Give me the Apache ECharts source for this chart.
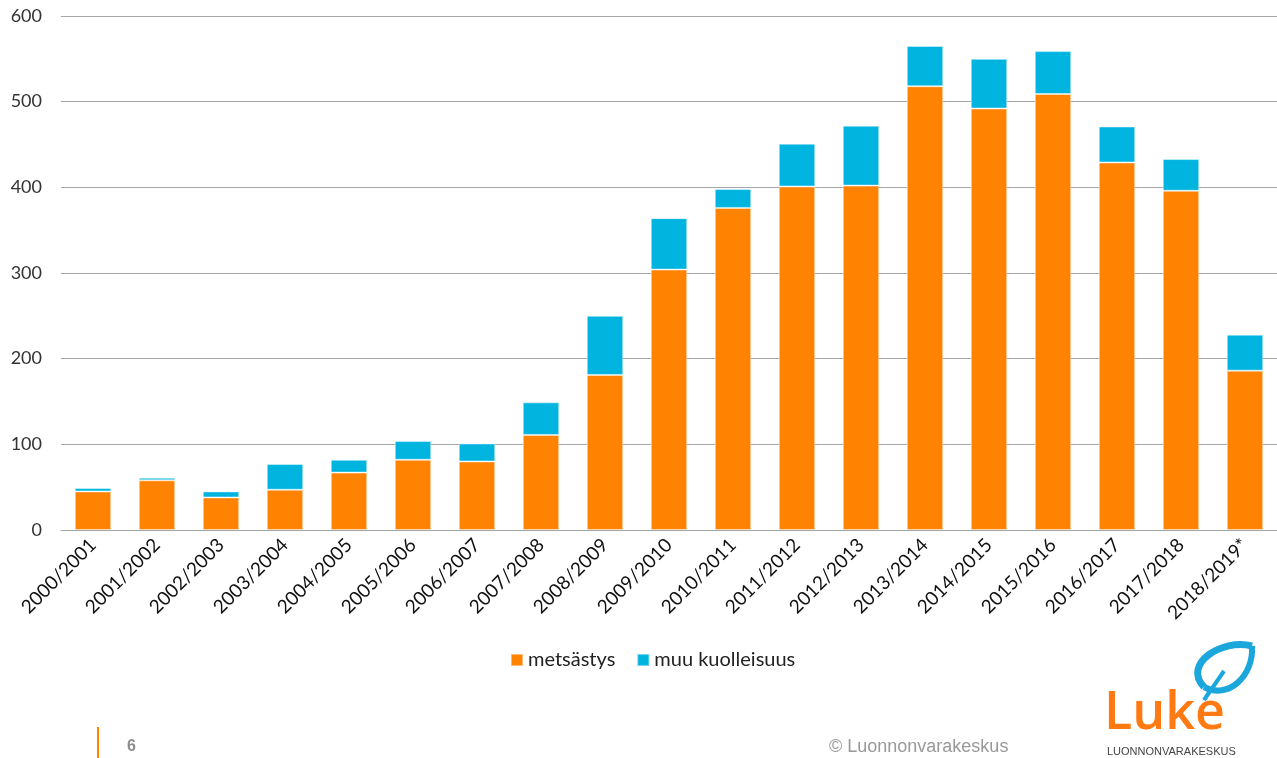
<!DOCTYPE html>
<html>
<head>
<meta charset="utf-8">
<script src="https://cdn.jsdelivr.net/npm/echarts@6/dist/echarts.min.js"></script>
<style>
html,body{margin:0;padding:0;background:#fff;}
#chart{width:1277px;height:758px;}
</style>
</head>
<body>
<div id="chart"></div>
<script>
var categories = ['2000/2001','2001/2002','2002/2003','2003/2004','2004/2005','2005/2006','2006/2007','2007/2008','2008/2009','2009/2010','2010/2011','2011/2012','2012/2013','2013/2014','2014/2015','2015/2016','2016/2017','2017/2018','2018/2019*'];
var metsastys = [45,58,38,47,67,82,80,111,181,304,376,401,402,518,492,509,429,396,186];
var muuKuolleisuus = [4,3,7,30,15,22,21,38,69,60,22,50,70,47,58,50,42,37,42];
var seriesNames = ['metsästys','muu kuolleisuus'];
var yTicks = [0,100,200,300,400,500,600];

var chart = echarts.init(document.getElementById('chart'), null, {renderer:'canvas'});
var labelFont = 'Lato, "Noto Sans", sans-serif';
chart.setOption({
  animation:false,
  backgroundColor:'#ffffff',
  grid:{left:61, right:0, top:16, height:514, containLabel:false},
  legend:{
    data:seriesNames,
    left:505, top:645,
    itemWidth:12, itemHeight:12, itemGap:21,
    icon:'rect',
    textStyle:{fontFamily:labelFont, fontSize:20, color:'#222', padding:[0,0,0,0]}
  },
  xAxis:{
    type:'category',
    data:categories,
    axisLine:{lineStyle:{color:'#a6a6a6', width:1}},
    axisTick:{show:false},
    axisLabel:{rotate:45, margin:12, fontFamily:labelFont, fontSize:19, color:'#111', interval:0}
  },
  yAxis:{
    type:'value',
    min:yTicks[0], max:yTicks[yTicks.length-1], interval:100,
    axisLine:{show:false},
    axisTick:{show:false},
    splitLine:{lineStyle:{color:'#a6a6a6', width:1}},
    axisLabel:{margin:19, fontFamily:labelFont, fontSize:18, color:'#333'}
  },
  series:[
    {name:seriesNames[0], type:'bar', stack:'total', data:metsastys, barWidth:'57%',
     itemStyle:{color:'#ff8200', borderColor:'rgba(255,255,255,0.45)', borderWidth:1}},
    {name:seriesNames[1], type:'bar', stack:'total', data:muuKuolleisuus, barWidth:'57%',
     itemStyle:{color:'#00b4e0', borderColor:'rgba(255,255,255,0.45)', borderWidth:1}}
  ],
  graphic:[
    {type:'rect', shape:{x:97, y:727, width:2, height:31}, style:{fill:'#ff8200'}},
    {type:'text', x:127, y:739, style:{text:'6', font:'bold 16px "Liberation Sans", Arial, sans-serif', fill:'#8c8c8c'}},
    {type:'text', x:829, y:738, style:{text:'© Luonnonvarakeskus', font:'18px "Liberation Sans", Arial, sans-serif', fill:'#999999'}},
    {type:'text', x:1104, y:714, style:{text:'Luke', font:'600 52px "Open Sans", Lato, sans-serif', fill:'#ff7a12', verticalAlign:'middle'}},
    {type:'text', x:1107, y:746, style:{text:'LUONNONVARAKESKUS', font:'11px "Liberation Sans", Arial, sans-serif', fill:'#444'}},
    {type:'bezierCurve', shape:{x1:1252, y1:646, x2:1204, y2:687, cpx1:1222, cpy1:638, cpx2:1182, cpy2:664},
     style:{fill:'none', stroke:'#1ba6dc', lineWidth:7}},
    {type:'bezierCurve', shape:{x1:1204, y1:687, x2:1252, y2:646, cpx1:1228, cpy1:700, cpx2:1254, cpy2:676},
     style:{fill:'none', stroke:'#1ba6dc', lineWidth:6}},
    {type:'polyline', shape:{points:[[1211,689],[1204,700],[1224,671]]},
     style:{fill:'none', stroke:'#1ba6dc', lineWidth:4}}
  ]
});
</script>
</body>
</html>
